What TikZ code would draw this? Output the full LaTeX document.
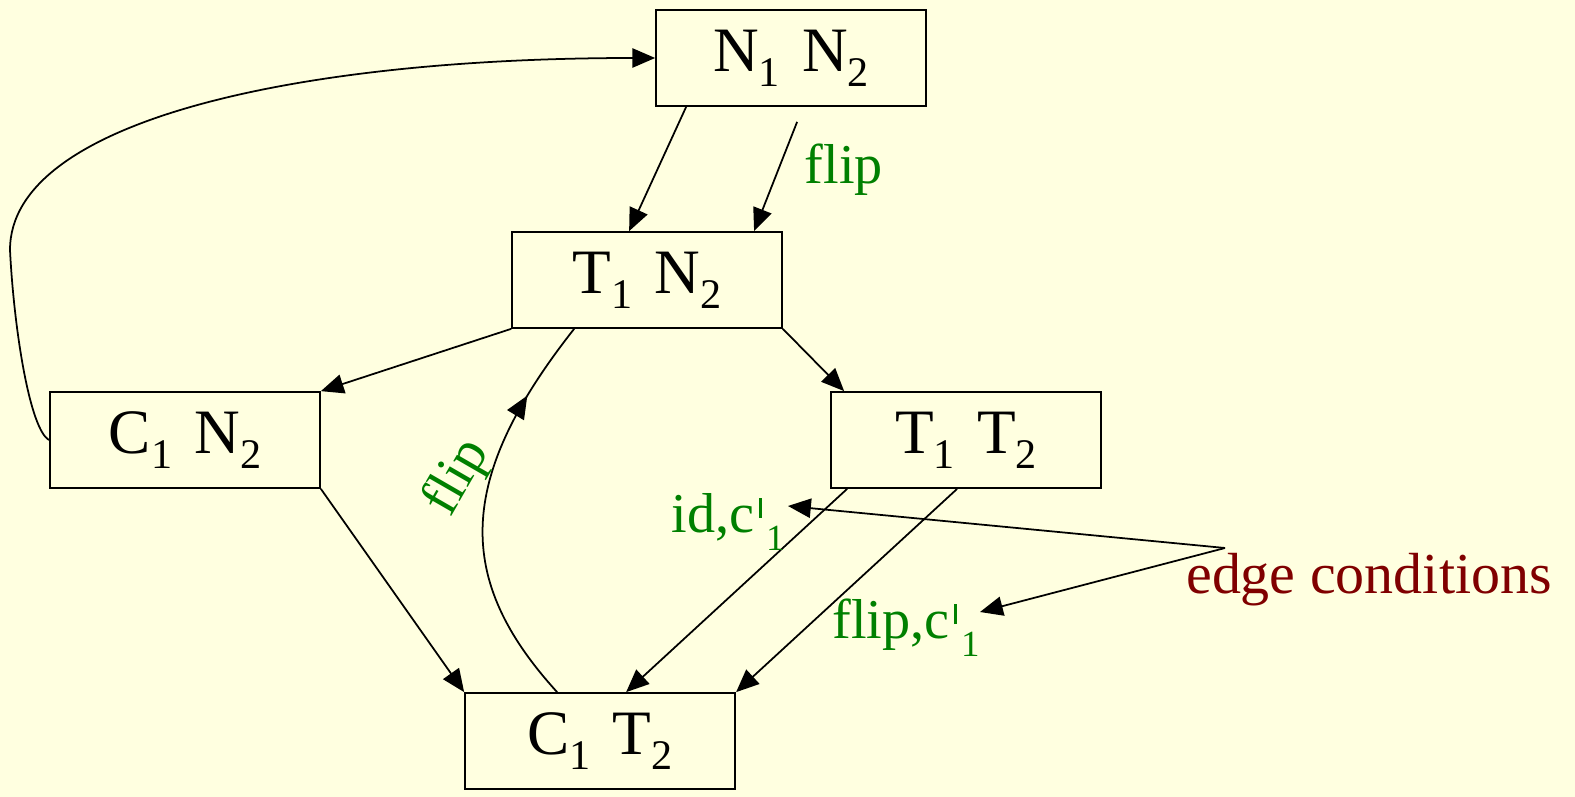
\documentclass[tikz,border=0pt]{standalone}
\usepackage{fontspec}
\setmainfont{Liberation Serif}
\usetikzlibrary{arrows.meta,decorations.markings}
\definecolor{slidebg}{RGB}{255,255,224}
\definecolor{lblgreen}{RGB}{0,128,0}
\definecolor{notered}{RGB}{128,0,0}
\newcommand{\lowidx}[1]{\raisebox{-0.24em}{\fontsize{24}{24}\selectfont #1}}
\newcommand{\cbarone}{c\hspace{0.08em}\raisebox{0.26em}{\rule{0.05em}{0.36em}}\hspace{0.08em}\raisebox{-0.32em}{\fontsize{21}{21}\selectfont 1}}
\tikzset{
  statebox/.style={draw, line width=1pt, minimum width=5.4cm, minimum height=1.92cm,
    inner sep=0pt, font=\fontsize{36}{42}\selectfont},
  lbl/.style={text=lblgreen, inner sep=0pt, font=\fontsize{32}{38}\selectfont},
}
\begin{document}
\begin{tikzpicture}[x=0.02cm, y=-0.02cm, line width=1pt, >={Triangle[length=13pt,width=11pt]}]
\fill[slidebg] (0,0) rectangle (1575,797);
\useasboundingbox (0,0) rectangle (1575,797);
% states
\node[statebox] (n1n2) at (791,58) {N\lowidx{1}\hspace{0.35em}N\lowidx{2}};
\node[statebox] (t1n2) at (647,280) {T\lowidx{1}\hspace{0.35em}N\lowidx{2}};
\node[statebox] (c1n2) at (185,440) {C\lowidx{1}\hspace{0.35em}N\lowidx{2}};
\node[statebox] (t1t2) at (966,440) {T\lowidx{1}\hspace{0.35em}T\lowidx{2}};
\node[statebox] (c1t2) at (600,741) {C\lowidx{1}\hspace{0.35em}T\lowidx{2}};
% transitions
\draw[->] ([xshift=0.62cm]n1n2.south west) -- ([xshift=2.36cm]t1n2.north west);
\draw[->] ([xshift=2.84cm,yshift=-0.3cm]n1n2.south west) -- ([xshift=4.86cm]t1n2.north west);
\draw[->] (t1n2.south west) -- (c1n2.north east);
\draw[->] (t1n2.south east) -- ([xshift=0.28cm]t1t2.north west);
\draw[->] (c1n2.south east) -- (c1t2.north west);
\draw[->] ([xshift=0.34cm]t1t2.south west) -- ([xshift=3.24cm]c1t2.north west);
\draw[->] ([xshift=2.54cm]t1t2.south west) -- ([xshift=5.44cm]c1t2.north west);
\draw[postaction=decorate, decoration={markings, mark=at position .8 with {\arrow{>}}}]
  ([xshift=1.86cm]c1t2.north west) .. controls (455,580) and (455,480) .. ([xshift=1.26cm]t1n2.south west);
\draw[->] (c1n2.west) .. controls (30,430) and (14,330) .. (10,250)
  .. controls (10,120) and (300,58) .. (n1n2.west);
% labels
\node[lbl] (flipa) at (844,170) {flip};
\node[lbl, rotate=60] (flipb) at (458,478) {flip};
\node[lbl] (idlbl) at (728,522) {id,\cbarone};
\node[lbl] (fliplbl) at (906,628) {flip,\cbarone};
\node[text=notered, inner sep=0pt, font=\fontsize{33}{39}\selectfont] (edgec) at (1369,580) {edge conditions};
\coordinate (fork) at (1225,548);
\coordinate (idtip) at (788,506);
\coordinate (fliptip) at (980,612);
\draw[->] (fork) -- (idtip);
\draw[->] (fork) -- (fliptip);
\end{tikzpicture}
\end{document}
